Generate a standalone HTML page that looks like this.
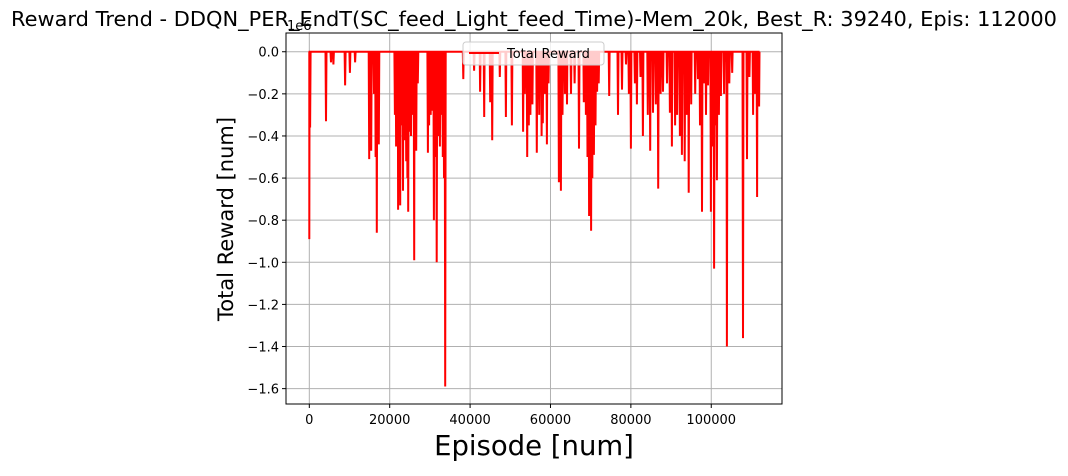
<!DOCTYPE html>
<html><head><meta charset="utf-8"><style>
body{margin:0;background:#fff;}
svg text{font-family:"DejaVu Sans","Liberation Sans",sans-serif;fill:#000;}
</style></head><body>
<svg id="chart" width="1068" height="471" xmlns="http://www.w3.org/2000/svg">
<text x="534" y="26" font-size="20.8" text-anchor="middle" textLength="1046" lengthAdjust="spacingAndGlyphs">Reward Trend - DDQN_PER_EndT(SC_feed_Light_feed_Time)-Mem_20k, Best_R: 39240, Epis: 112000</text>
<g id="grid"></g>
<g id="series"></g>
<rect x="286" y="33" width="496" height="371" fill="none" stroke="#000" stroke-width="1"/>
<g id="xticks"></g>
<g id="yticks"></g>
<text x="287" y="30" font-size="13">1e6</text>
<text x="534" y="455" font-size="27.5" text-anchor="middle">Episode [num]</text>
<text transform="translate(233,219) rotate(-90)" font-size="21" text-anchor="middle">Total Reward [num]</text>
<g>
<rect x="463" y="42" width="141" height="23" rx="3" fill="#fff" fill-opacity="0.8" stroke="#ccc"/>
<line x1="469" y1="53" x2="499" y2="53" stroke="#f00" stroke-width="2"/>
<text x="507" y="58" font-size="13">Total Reward</text>
</g>
</svg>
<script>
const spikeEpisodes=[0,200,4150,5400,6000,8900,10100,11400,14900,15400,16800,17300,21600,22100,22600,23300,24100,24600,25300,26100,26600,29500,30200,31000,31700,32500,33200,33800,38300,41000,42500,43500,45000,45500,47400,48900,50400,53200,54200,55000,56600,58100,59100,62100,62600,64100,65100,67100,68300,69600,70100,70800,71600,74600,76800,77800,78800,80000,81000,83000,84800,85500,86800,88000,89700,90200,91000,92700,93400,94400,96700,97700,99200,99900,100700,101400,102400,103900,107900,108900,110400,111400,111900];
const spikeValues=[-0.89,-0.36,-0.33,-0.05,-0.06,-0.16,-0.1,-0.05,-0.51,-0.47,-0.86,-0.44,-0.45,-0.75,-0.73,-0.66,-0.52,-0.76,-0.4,-0.99,-0.47,-0.48,-0.3,-0.8,-1.0,-0.45,-0.5,-1.59,-0.13,-0.09,-0.19,-0.31,-0.24,-0.42,-0.12,-0.31,-0.35,-0.38,-0.5,-0.3,-0.48,-0.34,-0.44,-0.62,-0.66,-0.25,-0.2,-0.46,-0.24,-0.78,-0.85,-0.49,-0.19,-0.21,-0.3,-0.18,-0.06,-0.46,-0.15,-0.4,-0.47,-0.29,-0.65,-0.19,-0.29,-0.45,-0.35,-0.49,-0.52,-0.67,-0.13,-0.76,-0.16,-0.76,-1.03,-0.61,-0.21,-1.4,-1.36,-0.51,-0.3,-0.69,-0.26];
const fillEpisodes=[15100,16100,16500,17000,21300,21900,22400,22900,23600,24400,24900,25600,26300,27000,29800,30500,31300,32000,32800,33500,53600,54600,55500,57200,57800,58600,59500,63000,63600,66000,68800,69200,70400,71200,72000,79500,81500,82400,84200,86200,87400,89000,91500,92200,93900,95000,96000,97200,98200,98700,100300,101000,101900,103200,104500,105200,109500,110900,111600];
const fillValues=[-0.3,-0.2,-0.5,-0.4,-0.3,-0.45,-0.55,-0.35,-0.42,-0.6,-0.38,-0.3,-0.2,-0.15,-0.35,-0.28,-0.5,-0.4,-0.3,-0.6,-0.2,-0.35,-0.25,-0.3,-0.4,-0.2,-0.15,-0.3,-0.2,-0.15,-0.3,-0.5,-0.6,-0.35,-0.15,-0.2,-0.25,-0.12,-0.3,-0.25,-0.2,-0.15,-0.3,-0.4,-0.3,-0.25,-0.2,-0.35,-0.15,-0.3,-0.45,-0.35,-0.3,-0.2,-0.15,-0.1,-0.12,-0.2,-0.1];
const lastEpisode=112000;
const xTickValues=[0,20000,40000,60000,80000,100000];
const yTickValues=[0,-0.2,-0.4,-0.6,-0.8,-1.0,-1.2,-1.4,-1.6];
const NS="http://www.w3.org/2000/svg";
const X0=286,X1=782,Y0=33,Y1=404;
const xMin=-5800,xMax=117600,yMin=-1.673,yMax=0.089;
function xs(v){return X0+(v-xMin)/(xMax-xMin)*(X1-X0);}
function ys(v){return Y1-(v-yMin)/(yMax-yMin)*(Y1-Y0);}
function mk(tag,attrs,parent){const e=document.createElementNS(NS,tag);for(const k in attrs)e.setAttribute(k,attrs[k]);parent.appendChild(e);return e;}
const grid=document.getElementById('grid'),xt=document.getElementById('xticks'),yt=document.getElementById('yticks'),ser=document.getElementById('series');
xTickValues.forEach(v=>{const x=xs(v);
 const g=mk('line',{x1:x,x2:x,y1:Y0,y2:Y1,stroke:'#b0b0b0','stroke-width':1},grid);
 
 
 const t=mk('line',{x1:x,x2:x,y1:Y1,y2:Y1+4,stroke:'#000'},xt);
 
 
 const l=mk('text',{x:x,y:Y1+20,'font-size':13,'text-anchor':'middle'},xt);l.textContent=String(v);
 
 
});
yTickValues.forEach(v=>{const y=ys(v);
 const g=mk('line',{x1:X0,x2:X1,y1:y,y2:y,stroke:'#b0b0b0','stroke-width':1},grid);
 
 
 const t=mk('line',{x1:X0-4,x2:X0,y1:y,y2:y,stroke:'#000'},yt);
 
 
 const l=mk('text',{x:X0-7,y:y+5,'font-size':13,'text-anchor':'end'},yt);l.textContent=(v===0?'0.0':v.toFixed(1).replace('-','\u2212'));
 
 
});
let pts=[[0,0]];
const allE=spikeEpisodes.concat(fillEpisodes),allV=spikeValues.concat(fillValues);
allE.forEach((e,i)=>{pts.push([e-120,0]);pts.push([e,allV[i]]);pts.push([e+120,0]);});
pts.push([lastEpisode,0]);
pts.sort((a,b)=>a[0]-b[0]);
const d=pts.map(p=>xs(p[0]).toFixed(1)+','+ys(p[1]).toFixed(1)).join(' ');
const pl=mk('polyline',{points:d,fill:'none',stroke:'#f00','stroke-width':2,'stroke-linejoin':'miter'},ser);


</script>
</body></html>
